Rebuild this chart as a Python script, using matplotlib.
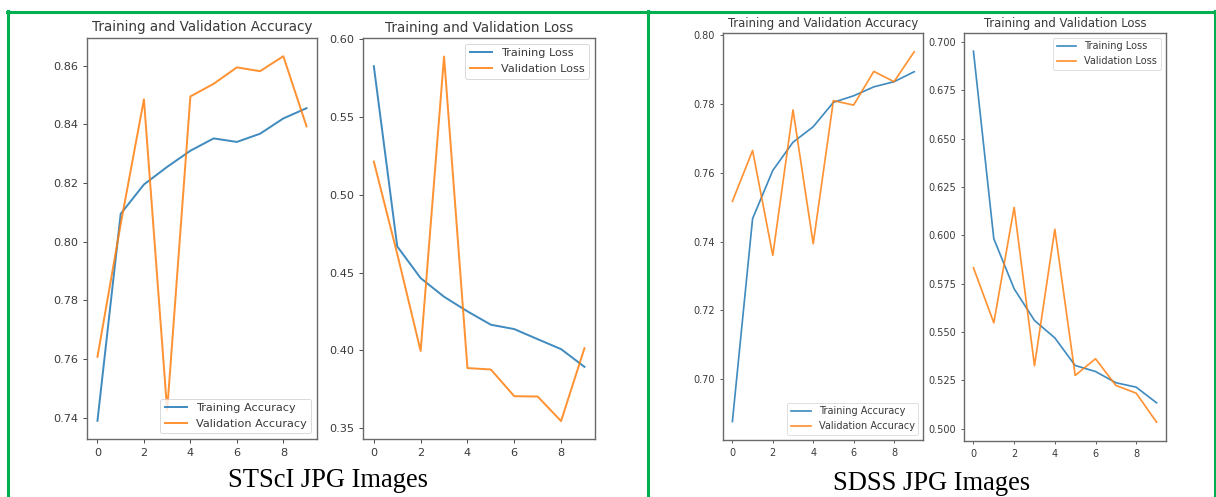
import matplotlib.pyplot as plt
import numpy as np

epochs = np.arange(10)

# STScI JPG run
stsci_train_acc = [0.739, 0.8095, 0.8195, 0.8255, 0.831, 0.8352, 0.834, 0.8368, 0.842, 0.8455]
stsci_val_acc = [0.7608, 0.806, 0.8485, 0.7425, 0.8495, 0.8538, 0.8594, 0.8581, 0.8632, 0.8393]
stsci_train_loss = [0.5828, 0.4668, 0.4464, 0.4344, 0.425, 0.4164, 0.4136, 0.4071, 0.4007, 0.3893]
stsci_val_loss = [0.5214, 0.462, 0.3995, 0.589, 0.3885, 0.3876, 0.3704, 0.3702, 0.3544, 0.4013]

# SDSS JPG run
sdss_train_acc = [0.6877, 0.7467, 0.7607, 0.7689, 0.7734, 0.7805, 0.7824, 0.785, 0.7865, 0.7894]
sdss_val_acc = [0.7517, 0.7665, 0.736, 0.7783, 0.7394, 0.781, 0.7797, 0.7895, 0.7865, 0.7952]
sdss_train_loss = [0.6953, 0.5983, 0.5724, 0.556, 0.547, 0.5327, 0.5296, 0.5238, 0.5215, 0.5134]
sdss_val_loss = [0.5833, 0.5548, 0.6145, 0.5326, 0.6032, 0.5276, 0.5362, 0.5224, 0.5184, 0.5034]

captions = ['STScI JPG Images', 'SDSS JPG Images']

W, H = 1216, 497
fig = plt.figure(figsize=(W / 100, H / 100), dpi=100)

TXT = '#3a3a3a'
SPINE = '#6a6a6a'
GREEN = '#00b050'


def px_axes(l, t, r, b):
    return fig.add_axes([l / W, 1 - b / H, (r - l) / W, (b - t) / H])


def curve_panel(ax, train, val, labels, title, loc, s):
    ax.plot(epochs, train, color='#1f77b4', lw=1.75 * s, alpha=0.85, label=labels[0])
    ax.plot(epochs, val, color='#ff7f0e', lw=1.75 * s, alpha=0.85, label=labels[1])
    ax.set_title(title, fontsize=12 * s, color=TXT, pad=6 * s)
    ax.set_xticks([0, 2, 4, 6, 8])
    ax.tick_params(labelsize=10 * s, colors=TXT, length=3.5 * s, width=0.8 * s)
    for sp in ax.spines.values():
        sp.set_color(SPINE)
        sp.set_linewidth(1.0)
    leg = ax.legend(loc=loc, fontsize=10 * s, labelcolor=TXT, handlelength=2.0)
    leg.get_frame().set_linewidth(0.8 * s)


s1 = 0.81
ax1 = px_axes(87, 38, 317, 439)
curve_panel(ax1, stsci_train_acc, stsci_val_acc, ['Training Accuracy', 'Validation Accuracy'],
            'Training and Validation Accuracy', 'lower right', s1)
ax1.set_yticks([0.74, 0.76, 0.78, 0.80, 0.82, 0.84, 0.86])

ax2 = px_axes(363.3, 38.3, 595, 439.3)
curve_panel(ax2, stsci_train_loss, stsci_val_loss, ['Training Loss', 'Validation Loss'],
            'Training and Validation Loss', 'upper right', s1)
ax2.set_yticks([0.35, 0.40, 0.45, 0.50, 0.55, 0.60])

s2 = 0.70
ax3 = px_axes(723.3, 33.3, 923.3, 440)
curve_panel(ax3, sdss_train_acc, sdss_val_acc, ['Training Accuracy', 'Validation Accuracy'],
            'Training and Validation Accuracy', 'lower right', s2)
ax3.set_yticks([0.70, 0.72, 0.74, 0.76, 0.78, 0.80])

ax4 = px_axes(964.3, 32.7, 1165.7, 440.7)
curve_panel(ax4, sdss_train_loss, sdss_val_loss, ['Training Loss', 'Validation Loss'],
            'Training and Validation Loss', 'upper right', s2)
ax4.set_yticks([0.500, 0.525, 0.550, 0.575, 0.600, 0.625, 0.650, 0.675, 0.700])

# captions under each pair
fig.text(328 / W, 1 - 486.7 / H, captions[0], ha='center', va='baseline',
         family='Liberation Serif', fontsize=19.1, color='black')
fig.text(931.5 / W, 1 - 490 / H, captions[1], ha='center', va='baseline',
         family='Liberation Serif', fontsize=19.1, color='black')

# green table borders
lw_border = 2.2
fig.add_artist(plt.Line2D([7 / W, 1215 / W], [1 - 11.5 / H] * 2, color=GREEN, lw=lw_border))
for xb in (7.5, 648, 1215):
    fig.add_artist(plt.Line2D([xb / W] * 2, [1 - 11 / H, 1 - 496.5 / H], color=GREEN, lw=lw_border))

fig.savefig('out.png', dpi=100)
